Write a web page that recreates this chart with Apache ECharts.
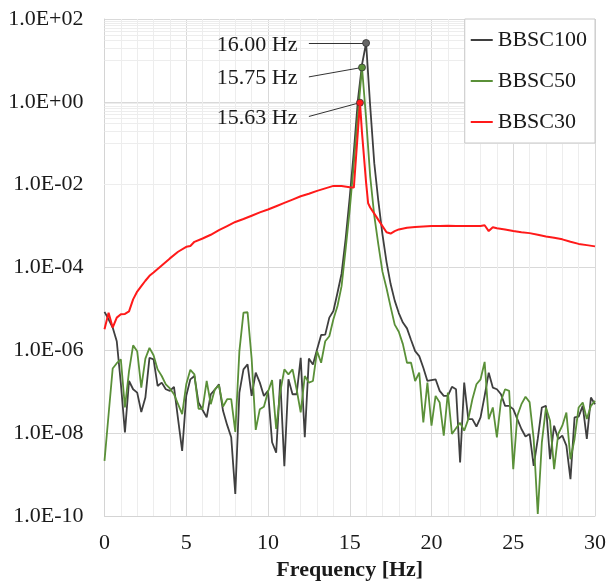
<!DOCTYPE html>
<html>
<head>
<meta charset="utf-8">
<title>BBSC spectrum</title>
<script src="https://cdn.jsdelivr.net/npm/echarts@6/dist/echarts.min.js"></script>
<style>
  html, body { margin: 0; padding: 0; background: #fff; }
  #main { width: 606px; height: 581px; }
</style>
</head>
<body>
<div id="main"></div>
<script>
// 频率轴 (0 ~ 30 Hz, 步长 0.25 Hz)
const freq = Array.from({length: 121}, (_, i) => i * 0.25);

// 幅值, 以 log10 记录
const bbsc100Log = [
  -5.07, -5.25, -5.45, -5.78, -6.80, -7.98, -6.74, -6.94, -7.02, -7.49, -7.14, -6.18,
  -6.22, -6.86, -6.78, -6.94, -6.98, -6.88, -7.66, -8.43, -7.10, -6.70, -6.62, -7.26,
  -7.44, -7.62, -7.06, -6.95, -6.82, -7.46, -7.80, -8.10, -9.47, -7.02, -6.46, -6.34,
  -7.10, -6.54, -6.78, -7.10, -6.98, -8.22, -8.47, -6.70, -8.80, -6.70, -7.06, -7.06,
  -6.18, -8.10, -6.20, -6.34, -5.98, -5.63, -5.62, -5.21, -5.05, -4.61, -4.15, -3.30,
  -2.30, -1.20, 0.05, 0.90, 1.42, -0.10, -1.48, -2.40, -3.20, -3.87, -4.40, -4.80,
  -5.10, -5.33, -5.47, -5.75, -6.02, -6.14, -6.42, -6.74, -6.72, -6.70, -6.98, -7.10,
  -7.10, -6.88, -6.94, -8.71, -6.78, -7.66, -7.66, -7.84, -7.62, -7.10, -6.54, -6.90,
  -6.94, -7.06, -7.34, -7.34, -7.42, -7.66, -7.90, -8.08, -8.02, -8.79, -8.14, -7.38,
  -7.34, -8.63, -7.82, -8.14, -8.06, -8.30, -9.11, -7.62, -7.60, -7.34, -8.14, -7.14,
  -7.30
];
const bbsc50Log = [
  -8.67, -7.55, -6.44, -6.31, -6.22, -7.38, -6.50, -5.88, -6.02, -6.90, -6.20, -5.94,
  -6.12, -6.46, -6.62, -6.82, -6.92, -7.06, -7.30, -7.54, -6.82, -6.47, -6.58, -7.41,
  -7.41, -6.74, -7.30, -6.94, -6.84, -7.36, -7.18, -7.18, -7.97, -6.02, -5.09, -5.08,
  -6.20, -7.92, -7.42, -7.36, -7.00, -6.72, -7.90, -7.00, -6.46, -6.58, -6.46, -6.94,
  -7.50, -6.62, -6.78, -6.74, -6.02, -6.30, -5.78, -5.66, -5.25, -4.93, -4.45, -3.55,
  -2.60, -1.50, -0.30, 0.83, -0.40, -1.80, -2.75, -3.45, -4.10, -4.50, -4.95, -5.38,
  -5.55, -5.85, -6.30, -6.30, -6.74, -6.54, -7.74, -6.78, -7.82, -7.10, -7.26, -8.06,
  -7.02, -8.02, -7.88, -7.75, -7.94, -7.66, -7.18, -6.82, -6.70, -6.28, -7.66, -7.38,
  -8.10, -7.22, -6.94, -6.98, -8.87, -7.58, -7.30, -7.12, -7.25, -8.14, -9.95, -8.22,
  -7.38, -7.70, -8.87, -8.02, -7.82, -7.50, -8.63, -8.14, -7.38, -7.26, -7.66, -7.34,
  -7.22
];
// BBSC30 分辨率不同, 单独的频率点
const bbsc30Freq = [
  0, 0.25, 0.5, 0.75, 1, 1.25, 1.5, 1.75, 2, 2.25, 2.5, 2.75,
  3, 3.5, 4, 4.5, 5, 5.25, 5.5, 6, 6.5, 7, 7.5, 8, 8.5, 9, 9.5, 10, 10.5, 11, 11.5,
  12, 12.5, 13, 13.5, 14, 14.5, 15, 15.25,
  15.625, 15.75, 16, 16.125, 16.25, 16.5, 16.75, 17, 17.25, 17.5, 17.75, 18,
  18.5, 19, 19.5, 20, 20.5, 21, 21.5, 22, 22.5, 23, 23.25, 23.5, 23.75, 24,
  24.5, 25, 25.5, 26, 26.5, 27, 27.5, 28, 28.5, 29, 29.5, 30
];
const bbsc30Log = [
  -5.49, -5.09, -5.45, -5.21, -5.13, -5.12, -5.06, -4.77, -4.58, -4.45, -4.32, -4.20,
  -4.12, -3.95, -3.78, -3.62, -3.50, -3.48, -3.38, -3.30, -3.21, -3.10, -3.00, -2.90, -2.83, -2.75, -2.67, -2.60, -2.52, -2.44, -2.36,
  -2.28, -2.22, -2.15, -2.09, -2.03, -2.03, -2.06, -2.07,
  -0.02, -0.75, -1.95, -2.45, -2.55, -2.70, -2.85, -3.00, -3.15, -3.18, -3.12, -3.08,
  -3.04, -3.02, -3.01, -3.00, -3.00, -2.99, -3.00, -3.00, -3.00, -3.00, -2.98, -3.12, -3.03, -3.05,
  -3.08, -3.12, -3.15, -3.17, -3.21, -3.25, -3.28, -3.32, -3.38, -3.43, -3.46, -3.49
];

const seriesNames = ['BBSC100', 'BBSC50', 'BBSC30'];
const seriesColors = ['#3f3f3f', '#5a9038', '#ff1a1a'];
// 峰值标注: 频率, 文字
const peakFreq = [16.0, 15.75, 15.625];
const peakText = ['16.00 Hz', '15.75 Hz', '15.63 Hz'];

const FONT = 'Liberation Serif';

function toPairs(xs, logs) {
  return logs.map((v, i) => [xs[i], Math.pow(10, v)]);
}

function peakOf(xs, logs, f) {
  return Math.pow(10, logs[xs.indexOf(f)]);
}

function expLabel(v) {
  let e = Math.round(Math.log10(v));
  return '1.0E' + (e < 0 ? '-' : '+') + String(Math.abs(e)).padStart(2, '0');
}

let myChart = null;

function initChart() {
  myChart = echarts.init(document.getElementById('main'), null, {renderer: 'canvas'});

  const dataList = [
    toPairs(freq, bbsc100Log),
    toPairs(freq, bbsc50Log),
    toPairs(bbsc30Freq, bbsc30Log)
  ];
  const peaks = [
    peakOf(freq, bbsc100Log, peakFreq[0]),
    peakOf(freq, bbsc50Log, peakFreq[1]),
    peakOf(bbsc30Freq, bbsc30Log, peakFreq[2])
  ];
  // 箭头终点和文字的位置 (数据坐标)
  const arrowEndY = [peaks[0], 4.0, 0.443];
  const textY = [23.6, 3.72, 0.405];

  // 次网格线 (对数轴 10, 20, ... 90 的倍数)
  let minorLines = [];
  for (let e = -9; e <= 1; e += 2) {
    for (let m = 1; m <= 9; m++) {
      minorLines.push({yAxis: m * Math.pow(10, e)});
    }
  }

  let series = [{
    name: 'grid',
    type: 'line',
    data: [],
    z: 1,
    silent: true,
    markLine: {
      silent: true,
      z: 1,
      symbol: 'none',
      animation: false,
      label: {show: false},
      lineStyle: {color: '#ededed', width: 1, type: 'solid'},
      data: minorLines
    }
  }];

  seriesNames.forEach((name, i) => {
    series.push({
      name: name,
      type: 'line',
      data: dataList[i],
      symbol: 'none',
      z: 3 + i,
      lineStyle: {color: seriesColors[i], width: i === 2 ? 2 : 1.8},
      itemStyle: {color: seriesColors[i]},
      markLine: {
        silent: true,
        animation: false,
        symbol: ['none', 'arrow'],
        symbolSize: [0, 7],
        label: {show: false},
        lineStyle: {color: '#333', width: 1, type: 'solid'},
        data: [[{coord: [peakFreq[i], peaks[i]]}, {coord: [12.5, arrowEndY[i]]}]]
      },
      markPoint: {
        silent: true,
        animation: false,
        data: [
          {
            coord: [peakFreq[i], peaks[i]],
            symbol: 'circle',
            symbolSize: 7,
            itemStyle: {color: i === 0 ? '#666' : seriesColors[i], borderColor: '#333', borderWidth: 0.8},
            label: {show: false}
          },
          {
            coord: [11.8, textY[i]],
            symbol: 'circle',
            symbolSize: 0,
            label: {
              show: true,
              position: 'left',
              distance: 0,
              formatter: peakText[i],
              fontFamily: FONT,
              fontSize: 22,
              color: '#1a1a1a'
            }
          }
        ]
      }
    });
  });

  // 指定图表的配置项和数据
  let option = {
    animation: false,
    backgroundColor: '#fff',
    grid: {left: 104.5, right: 11, top: 19, bottom: 65, containLabel: false, outerBoundsMode: 'none'},
    legend: {
      data: seriesNames,
      z: 20,
      orient: 'vertical',
      right: 11,
      top: 19,
      backgroundColor: '#fff',
      borderColor: '#c8c8c8',
      borderWidth: 1,
      padding: [10, 8, 10, 6],
      itemGap: 19,
      icon: 'rect',
      itemWidth: 22,
      itemHeight: 2,
      textStyle: {fontFamily: FONT, fontSize: 22, color: '#1a1a1a', lineHeight: 22}
    },
    xAxis: {
      type: 'value',
      min: 0,
      max: 30,
      interval: 5,
      name: 'Frequency [Hz]',
      nameLocation: 'middle',
      nameGap: 31,
      nameTextStyle: {fontFamily: FONT, fontSize: 22, fontWeight: 'bold', color: '#1a1a1a'},
      axisLine: {show: true, lineStyle: {color: '#d4d4d4'}},
      axisTick: {show: false},
      axisLabel: {fontFamily: FONT, fontSize: 22, color: '#1a1a1a', margin: 16},
      splitLine: {show: true, lineStyle: {color: '#d9d9d9'}},
      minorTick: {show: false, splitNumber: 5},
      minorSplitLine: {show: true, lineStyle: {color: '#ededed'}}
    },
    yAxis: {
      type: 'log',
      logBase: 100,
      min: 1e-10,
      max: 100,
      axisLine: {show: true, lineStyle: {color: '#d4d4d4'}},
      axisTick: {show: false},
      axisLabel: {fontFamily: FONT, fontSize: 22, color: '#1a1a1a', margin: 21, formatter: expLabel},
      splitLine: {show: true, lineStyle: {color: '#d9d9d9'}}
    },
    series: series
  };
  myChart.setOption(option);
}

initChart();
</script>
</body>
</html>
